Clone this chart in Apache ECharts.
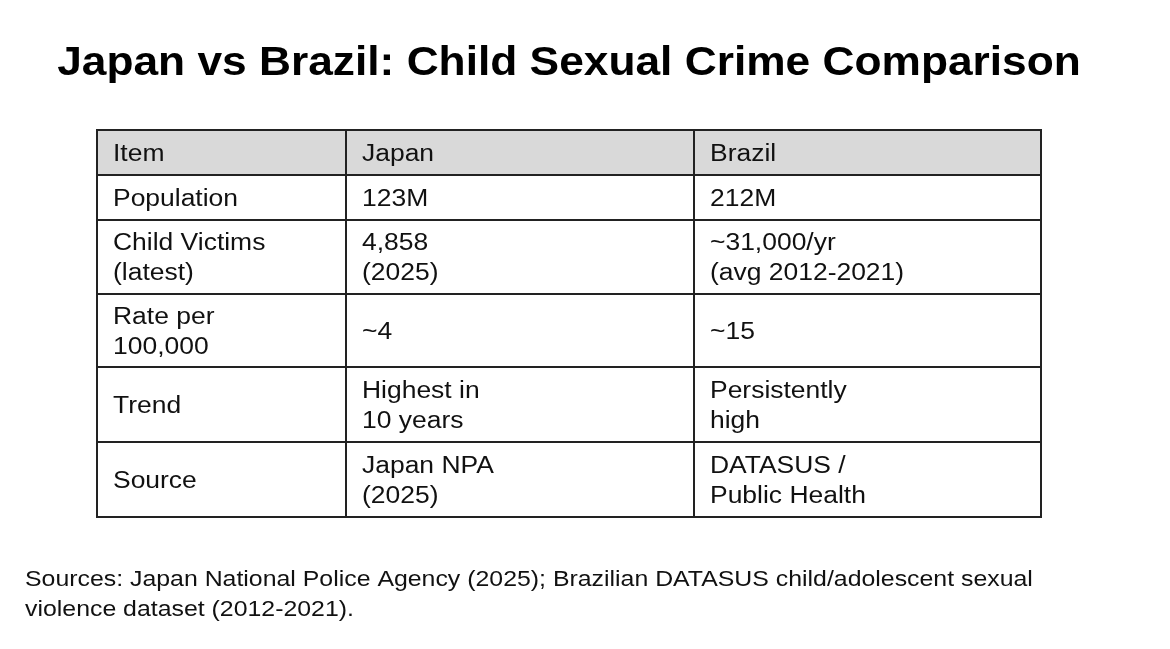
<!DOCTYPE html>
<html><head><meta charset="utf-8">
<script src="https://cdn.jsdelivr.net/npm/echarts@6/dist/echarts.min.js"></script>
<style>html,body{margin:0;padding:0;background:#fff}#c{width:1170px;height:649px}</style>
</head><body><div id="c"></div>
<script>
const title = "Japan vs Brazil: Child Sexual Crime Comparison";
const headers = ["Item", "Japan", "Brazil"];
const items = ["Population", "Child Victims\n(latest)", "Rate per\n100,000", "Trend", "Source"];
const japan = ["123M", "4,858\n(2025)", "~4", "Highest in\n10 years", "Japan NPA\n(2025)"];
const brazil = ["212M", "~31,000/yr\n(avg 2012-2021)", "~15", "Persistently\nhigh", "DATASUS /\nPublic Health"];
const footnote = "Sources: Japan National Police Agency (2025); Brazilian DATASUS child/adolescent sexual\nviolence dataset (2012-2021).";

const colX = [97, 346, 694, 1041];
const rowY = [130, 175, 220, 294, 367, 442, 517];
const font = '"Liberation Sans", Arial, sans-serif';
const rows = [headers].concat(items.map((it, i) => [it, japan[i], brazil[i]]));
const g = [];
rows.forEach((r, ri) => {
  r.forEach((txt, ci) => {
    const x = colX[ci], y = rowY[ri], w = colX[ci+1]-x, h = rowY[ri+1]-y;
    g.push({type:'rect', shape:{x, y, width:w, height:h},
      style:{fill: ri===0 ? '#d9d9d9' : '#fff', stroke:'#222', lineWidth:2}});
    g.push({type:'text', x: x+16, y: y+h/2+2, scaleX:1.15,
      style:{text: txt, font: '23px ' + font, fill:'#111', textVerticalAlign:'middle', lineHeight:30}});
  });
});
g.push({type:'text', x:569, y:64, scaleX:1.08, style:{text:title, font:'bold 41px '+font, fill:'#000', textAlign:'center', textVerticalAlign:'middle'}});
g.push({type:'text', x:25, y:565, scaleX:1.13, style:{text:footnote, font:'22px '+font, fill:'#111', lineHeight:30}});
const chart = echarts.init(document.getElementById('c'));
chart.setOption({animation:false, graphic:{elements:g}});
</script></body></html>
